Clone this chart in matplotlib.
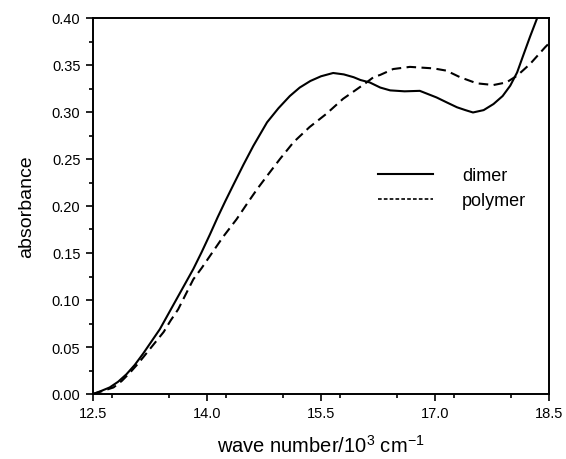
#!/usr/bin/env python3
"""
Absorbance spectra of dimer vs polymer, wave number axis in 10^3 cm^-1.
"""

import matplotlib
matplotlib.use("Agg")
import matplotlib.pyplot as plt
from matplotlib.lines import Line2D
from matplotlib.ticker import MultipleLocator

# -----------------------------------------------------------------------------
# DATA
# -----------------------------------------------------------------------------
dimer_x = [12.50, 12.60, 12.72, 12.83, 12.94, 13.05, 13.16, 13.27, 13.38, 13.49,
           13.60, 13.71, 13.82, 13.93, 14.04, 14.14, 14.24, 14.35, 14.48, 14.61,
           14.79, 14.94, 15.09, 15.22, 15.36, 15.50, 15.66, 15.80, 15.93, 16.02,
           16.14, 16.28, 16.41, 16.60, 16.80, 17.02, 17.16, 17.29, 17.40, 17.50,
           17.64, 17.77, 17.89, 17.99, 18.08, 18.16, 18.25, 18.34, 18.42]
dimer_y = [0.000, 0.003, 0.007, 0.013, 0.021, 0.031, 0.043, 0.056, 0.069, 0.085,
           0.101, 0.117, 0.133, 0.151, 0.170, 0.188, 0.205, 0.223, 0.244, 0.264,
           0.289, 0.304, 0.317, 0.326, 0.333, 0.338, 0.3415, 0.340, 0.337, 0.334,
           0.3315, 0.326, 0.323, 0.322, 0.3225, 0.3155, 0.310, 0.305, 0.302, 0.2995,
           0.302, 0.3085, 0.317, 0.328, 0.342, 0.360, 0.380, 0.399, 0.418]

polymer_x = [12.50, 12.62, 12.77, 12.88, 12.99, 13.10, 13.21, 13.32, 13.43, 13.52,
             13.62, 13.72, 13.82, 13.93, 14.04, 14.21, 14.39, 14.54, 14.66, 14.79,
             14.96, 15.14, 15.35, 15.57, 15.79, 15.95, 16.10, 16.19, 16.28, 16.45,
             16.67, 16.98, 17.15, 17.33, 17.55, 17.77, 17.94, 18.08, 18.25, 18.45,
             18.50]
polymer_y = [0.000, 0.003, 0.007, 0.014, 0.023, 0.033, 0.044, 0.055, 0.066, 0.078,
             0.090, 0.106, 0.122, 0.134, 0.147, 0.167, 0.186, 0.204, 0.218, 0.232,
             0.250, 0.268, 0.284, 0.298, 0.314, 0.323, 0.3315, 0.337, 0.3395, 0.3457,
             0.348, 0.3464, 0.344, 0.337, 0.3305, 0.3287, 0.3315, 0.3386, 0.351, 0.369,
             0.373]

labels = ["dimer", "polymer"]
x_ticks = [12.5, 14.0, 15.5, 17.0, 18.5]

# -----------------------------------------------------------------------------
plt.rcParams["font.family"] = ["Liberation Sans", "DejaVu Sans"]
plt.rcParams["mathtext.default"] = "regular"

W, H = 566, 460
fig = plt.figure(figsize=(W / 100, H / 100), dpi=100)
ax = fig.add_axes([93 / W, 1 - 395 / H, (549 - 93) / W, (395 - 19) / H])

ax.plot(dimer_x, dimer_y, color="black", lw=1.5)
ax.plot(polymer_x, polymer_y, color="black", lw=1.5, dashes=(4.6, 2.6))

ax.set_xlim(12.5, 18.5)
ax.set_ylim(0.0, 0.40)
ax.set_xticks(x_ticks)
ax.xaxis.set_minor_locator(MultipleLocator(0.75))
ax.yaxis.set_major_locator(MultipleLocator(0.05))
ax.yaxis.set_minor_locator(MultipleLocator(0.025))
ax.yaxis.set_major_formatter(plt.FormatStrFormatter("%.2f"))
ax.xaxis.set_major_formatter(plt.FormatStrFormatter("%.1f"))

ax.tick_params(which="both", direction="out", top=False, right=False,
               width=1.2, labelsize=10.5)
ax.tick_params(which="major", length=5, pad=4)
ax.tick_params(which="minor", length=3)
for s in ax.spines.values():
    s.set_linewidth(1.4)

ax.set_xlabel("wave number/10$^3$ cm$^{-1}$", fontsize=14.5, labelpad=10)
ax.set_ylabel("absorbance", fontsize=14, labelpad=12)

handles = [Line2D([], [], color="black", lw=1.5),
           Line2D([], [], color="black", lw=1.2, dashes=(2.2, 1.3))]
ax.legend(handles, labels, loc="upper left",
          bbox_to_anchor=(378 / W, 1 - 168 / H), bbox_transform=fig.transFigure,
          frameon=False, fontsize=13, handlelength=3.05, handletextpad=1.6,
          labelspacing=0.45, borderpad=0, borderaxespad=0)

fig.savefig("out.png", dpi=100)
